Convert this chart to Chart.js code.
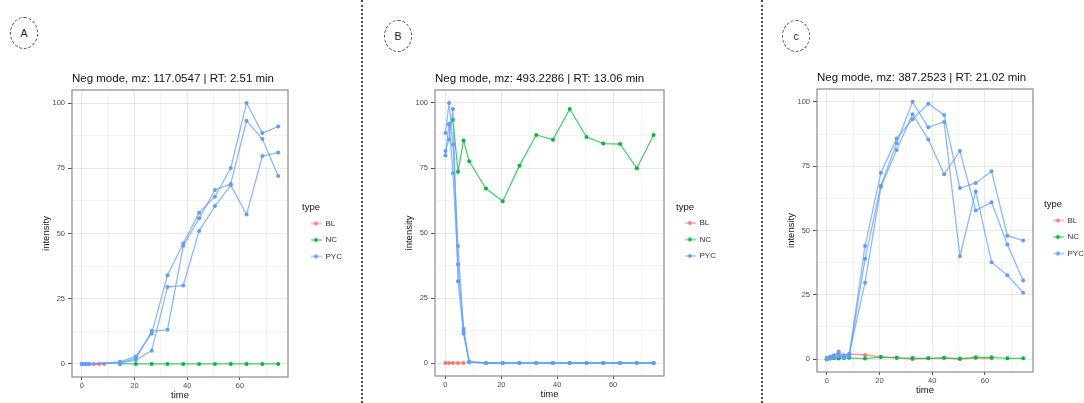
<!DOCTYPE html>
<html>
<head>
<meta charset="utf-8">
<script src="https://cdn.jsdelivr.net/npm/chart.js@4.4.1/dist/chart.umd.min.js"></script>
<style>
  html, body { margin: 0; padding: 0; background: #fff; }
  body { width: 1084px; height: 403px; position: relative; overflow: hidden;
         font-family: "Liberation Sans", Arial, sans-serif; }
  .panel { position: absolute; top: 0; }
  .sep { position: absolute; top: 0; width: 0; height: 403px; border-left: 2px dotted #4a4a4a; }
  .tag { position: absolute; width: 28px; height: 32px; border: 1.4px dashed #555; border-radius: 50%;
         box-sizing: border-box; display: flex; align-items: center; justify-content: center;
         font-size: 10.5px; color: #222; }
</style>
</head>
<body>
<div class="tag" style="left:10px;top:17px;">A</div>
<div class="tag" style="left:384px;top:20px;">B</div>
<div class="tag" style="left:782px;top:20px;">c</div>
<div class="sep" style="left:361px;"></div>
<div class="sep" style="left:761px;"></div>
<canvas id="chartA" class="panel" style="left:0px;" width="360" height="403"></canvas>
<canvas id="chartB" class="panel" style="left:364px;" width="396" height="403"></canvas>
<canvas id="chartC" class="panel" style="left:764px;" width="320" height="403"></canvas>
<script>
// Sampling times (same schedule for every feature); null = no sample at that time
const TIMES = [0, 1.3, 2.7, 4.5, 6.5, 8.5, 14.5, 20.5, 26.5, 32.5, 38.5, 44.5, 50.5, 56.5, 62.5, 68.5, 74.5];

const X_TICKS = [0, 10, 20, 30, 40, 50, 60, 70];
const X_TICK_LABELS = [0, 20, 40, 60];
const Y_TICKS = [0, 12.5, 25, 37.5, 50, 62.5, 75, 87.5, 100];
const Y_TICK_LABELS = [0, 25, 50, 75, 100];

const TYPES = ['BL', 'NC', 'PYC'];

// Feature 1: mz 117.0547, RT 2.51 min
const A_BL    = [0, 0, 0, 0, 0, 0, null, null, null, null, null, null, null, null, null, null, null];
const A_NC    = [null, null, null, null, null, null, 0, 0, 0, 0, 0, 0, 0, 0, 0, 0, 0];
const A_PYC_1 = [0, 0, 0, null, null, null, 0.8, 2.9, 11.7, 34.0, 46.2, 58.0, 64.1, 75.1, 100, 88.5, 91.0];
const A_PYC_2 = [0, 0, 0, null, null, null, 0.5, 2.0, 12.6, 13.1, 45.3, 55.8, 66.7, 69.0, 93.2, 86.2, 72.0];
const A_PYC_3 = [0, 0, 0, null, null, null, 0.3, 1.5, 5.1, 29.5, 30.1, 51.0, 60.5, 68.5, 57.3, 79.7, 81.0];

// Feature 2: mz 493.2286, RT 13.06 min
const B_BL    = [0, 0, 0, 0, 0, null, null, null, null, null, null, null, null, null, null, null, null];
const B_NC    = [null, 91.7, 93.6, 73.6, 85.6, 77.6, 67.1, 62.2, 75.9, 87.7, 85.9, 97.7, 86.9, 84.4, 84.2, 74.9, 87.7];
const B_PYC_1 = [88.5, 100, 84.0, 45.0, 13.2, 0.5, 0, 0, 0, 0, 0, 0, 0, 0, 0, 0, 0];
const B_PYC_2 = [81.5, 86.0, 97.7, 31.4, 11.3, 0.4, 0, 0, 0, 0, 0, 0, 0, 0, 0, 0, 0];
const B_PYC_3 = [79.8, 92.0, 73.0, 38.0, 12.0, 0.3, 0, 0, 0, 0, 0, 0, 0, 0, 0, 0, 0];

// Feature 3: mz 387.2523, RT 21.02 min
const C_BL    = [0.5, 0.6, 0.5, 1.0, 0.8, 2.0, 1.6, 0.9, 0.5, 0, 0.3, 0.5, 0, 0.4, 0.3, null, null];
const C_NC    = [0, 0.2, 0.3, 0.2, 0.4, 0.5, 0.2, 0.8, 0.5, 0.4, 0.3, 0.5, 0.2, 0.7, 0.7, 0.3, 0.3];
const C_PYC_1 = [0, 0.3, 1.0, 3.0, 1.0, 1.5, 44.0, 72.4, 85.8, 93.2, 99.3, 94.9, 66.5, 68.5, 73.0, 48.0, 46.1];
const C_PYC_2 = [0, 0.5, 1.5, 2.0, 0.5, 1.0, 39.0, 67.4, 83.9, 100, 90.1, 92.2, 40.0, 65.2, 37.7, 32.6, 25.8];
const C_PYC_3 = [0.3, 1.0, 0.5, 1.0, 1.5, 2.0, 29.7, 66.9, 81.3, 95.2, 85.4, 71.9, 80.9, 57.8, 61.0, 44.6, 30.6];

const COLORS = {
  BL:  { point: '#F8766D', line: 'rgba(248,118,109,0.75)' },
  NC:  { point: '#00BA38', line: 'rgba(0,186,56,0.7)' },
  PYC: { point: '#619CFF', line: 'rgba(97,156,255,0.72)' }
};
const DRAW_ORDER = { BL: 3, NC: 2, PYC: 1 };

Chart.defaults.font.family = '"Liberation Sans", Arial, Helvetica, sans-serif';
Chart.defaults.color = '#4d4d4d';

function points(values) {
  const out = [];
  values.forEach((v, i) => { if (v !== null) out.push({ x: TIMES[i], y: v }); });
  return out;
}

function series(type, values) {
  return {
    label: type,
    data: points(values),
    borderColor: COLORS[type].line,
    backgroundColor: COLORS[type].point,
    pointBackgroundColor: COLORS[type].point,
    pointBorderWidth: 0,
    pointRadius: 2,
    borderWidth: 1.3,
    tension: 0,
    order: DRAW_ORDER[type]
  };
}

// legend key: short line with a dot in the middle
function keyGlyph(type) {
  const c = document.createElement('canvas');
  c.width = 11; c.height = 6;
  const g = c.getContext('2d');
  g.strokeStyle = COLORS[type].line;
  g.lineWidth = 1.2;
  g.beginPath(); g.moveTo(0, 3); g.lineTo(11, 3); g.stroke();
  g.fillStyle = COLORS[type].point;
  g.beginPath(); g.arc(5.5, 3, 1.9, 0, Math.PI * 2); g.fill();
  return c;
}
const GLYPHS = {};
TYPES.forEach(t => GLYPHS[t] = keyGlyph(t));

const panelFrame = {
  id: 'panelFrame',
  afterDatasetsDraw(chart) {
    const a = chart.chartArea, ctx = chart.ctx;
    ctx.save();
    ctx.strokeStyle = '#8c8c8c';
    ctx.lineWidth = 1.2;
    ctx.strokeRect(a.left, a.top, a.right - a.left, a.bottom - a.top);
    ctx.restore();
  }
};

const legendShift = {
  id: 'legendShift',
  afterLayout(chart, args, opts) {
    const lg = chart.legend;
    if (lg && opts.dx) { lg.left += opts.dx; lg.right += opts.dx; }
  }
};

function gridColor(majors) {
  return (ctx) => (ctx.tick && majors.includes(ctx.tick.value)) ? 'rgba(0,0,0,0.085)' : 'rgba(0,0,0,0.045)';
}
function tickMarkColor(majors) {
  return (ctx) => (ctx.tick && majors.includes(ctx.tick.value)) ? '#555' : 'rgba(0,0,0,0)';
}

function makePanel(id, title, groups, area, dx) {
  const datasets = [];
  groups.forEach(([type, values]) => datasets.push(series(type, values)));
  const chart = new Chart(document.getElementById(id), {
    type: 'line',
    data: { datasets },
    options: {
      responsive: false,
      animation: false,
      layout: { padding: { left: 0, top: 0, right: 0, bottom: 0 } },
      scales: {
        x: {
          type: 'linear',
          min: -3.725, max: 78.225,
          afterBuildTicks: (s) => { s.ticks = X_TICKS.map(v => ({ value: v })); },
          ticks: {
            autoSkip: false, maxRotation: 0, padding: 1, color: '#4d4d4d',
            font: { size: 7.5 },
            callback: (v) => X_TICK_LABELS.includes(v) ? String(v) : ''
          },
          grid: { color: gridColor(X_TICK_LABELS), lineWidth: 1, tickLength: 3,
                  tickColor: tickMarkColor(X_TICK_LABELS), drawTicks: true },
          border: { display: false },
          title: { display: true, text: 'time', color: '#111', font: { size: 9.5, lineHeight: 1 },
                   padding: { top: 0, bottom: 0 } }
        },
        y: {
          type: 'linear',
          min: -5, max: 105,
          afterBuildTicks: (s) => { s.ticks = Y_TICKS.map(v => ({ value: v })); },
          ticks: {
            autoSkip: false, padding: 3, color: '#4d4d4d',
            font: { size: 7.5 },
            callback: (v) => Y_TICK_LABELS.includes(v) ? String(v) : ''
          },
          grid: { color: gridColor(Y_TICK_LABELS), lineWidth: 1, tickLength: 4,
                  tickColor: tickMarkColor(Y_TICK_LABELS), drawTicks: true },
          border: { display: false },
          title: { display: true, text: 'intensity', color: '#111', font: { size: 9.5, lineHeight: 1 },
                   padding: { top: 2, bottom: -2 } }
        }
      },
      plugins: {
        title: {
          display: true, text: title, align: 'start', fullSize: false,
          color: '#111', font: { size: 11.5, weight: 'normal' },
          padding: { top: 0, bottom: 4 }
        },
        legend: {
          display: true, position: 'right', fullSize: false, align: 'center',
          title: { display: true, text: 'type', position: 'start', color: '#111',
                   font: { size: 9.5, lineHeight: 1 }, padding: { top: 5, bottom: -1.5 } },
          labels: {
            usePointStyle: true, pointStyleWidth: 11, boxHeight: 8, padding: 8.5,
            color: '#333', font: { size: 8 },
            generateLabels: () => TYPES.map(t => ({
              text: t, pointStyle: GLYPHS[t], fillStyle: COLORS[t].point,
              strokeStyle: COLORS[t].line, lineWidth: 0, hidden: false, fontColor: '#333'
            }))
          }
        },
        tooltip: { enabled: false },
        legendShift: { dx: dx }
      }
    },
    plugins: [panelFrame, legendShift]
  });
  // settle the padding so the plotting panel sits where it should
  for (let k = 0; k < 3; k++) {
    const ca = chart.chartArea;
    const p = chart.config.options.layout.padding;
    chart.config.options.layout.padding = {
      left: p.left + (area.left - ca.left),
      top: p.top + (area.top - ca.top),
      right: p.right + (ca.right - area.right),
      bottom: p.bottom + (ca.bottom - area.bottom)
    };
    chart.update();
  }
  return chart;
}

makePanel('chartA', 'Neg mode, mz: 117.0547 | RT: 2.51 min',
  [['BL', A_BL], ['NC', A_NC], ['PYC', A_PYC_1], ['PYC', A_PYC_2], ['PYC', A_PYC_3]],
  { left: 72, top: 90, right: 288, bottom: 377 }, 14);

makePanel('chartB', 'Neg mode, mz: 493.2286 | RT: 13.06 min',
  [['BL', B_BL], ['NC', B_NC], ['PYC', B_PYC_1], ['PYC', B_PYC_2], ['PYC', B_PYC_3]],
  { left: 435 - 364, top: 90, right: 664 - 364, bottom: 376 }, 12);

makePanel('chartC', 'Neg mode, mz: 387.2523 | RT: 21.02 min',
  [['BL', C_BL], ['NC', C_NC], ['PYC', C_PYC_1], ['PYC', C_PYC_2], ['PYC', C_PYC_3]],
  { left: 817 - 764, top: 89, right: 1033 - 764, bottom: 372 }, 11);
</script>
</body>
</html>
